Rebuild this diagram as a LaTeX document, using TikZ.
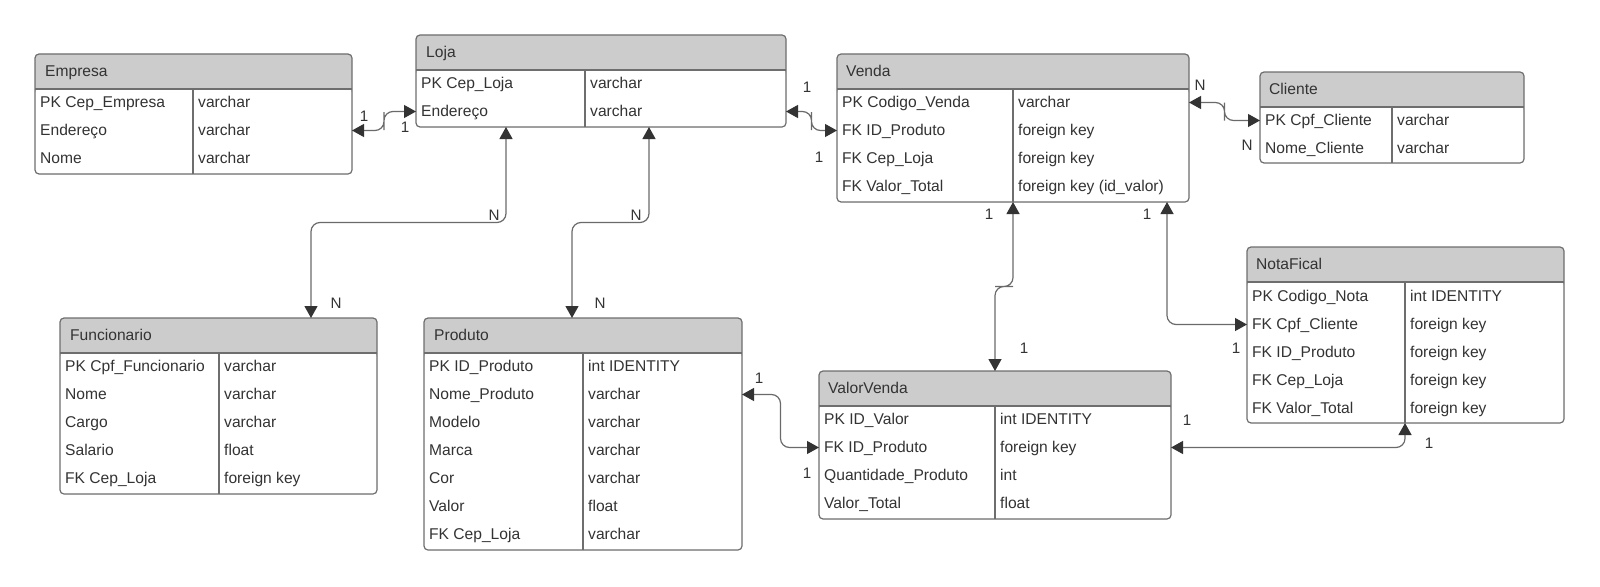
\documentclass[tikz,border=0pt]{standalone}
\usepackage{fontspec}
\setmainfont{Liberation Sans}
\usepackage{xcolor}
\usetikzlibrary{calc,arrows.meta}
\definecolor{headgray}{HTML}{CCCCCC}
\definecolor{framegray}{HTML}{6E6E6E}
\definecolor{linkgray}{HTML}{6A6A6A}
\definecolor{tipdark}{HTML}{333333}
\definecolor{txt}{HTML}{333333}

\begin{document}
\begin{tikzpicture}[x=1pt,y=-1pt,font=\fontsize{15.6}{18}\selectfont,
    tbl/.style={anchor=north west,draw=framegray,line width=1.2pt,rounded corners=4pt,fill=headgray,
        inner sep=0pt,outer sep=0pt,
        path picture={
            \fill[white] ([yshift=-35pt]path picture bounding box.north west) rectangle (path picture bounding box.south east);
            \draw[tblline] ([yshift=-35pt]path picture bounding box.north west) -- ([yshift=-35pt]path picture bounding box.north east);
        }},
    tblline/.style={draw=framegray,line width=1.2pt},
    fld/.style={anchor=west,inner sep=0pt,text=txt,text height=12pt,text depth=2pt},
    card/.style={inner sep=0pt,text=txt,font=\fontsize{15.2}{17}\selectfont},
    rel/.style={<->,>={Triangle[length=12pt,width=13pt,color=tipdark]},draw=linkgray,line width=1.2pt,rounded corners=9pt}]

    \useasboundingbox (0,0) rectangle (1600,586);

    % Empresa
    \node[tbl,minimum width=317pt,minimum height=120pt] (empresa) at (35,54) {};
    \draw[tblline] (193,89) -- (193,174);
    \node[fld] (empresa0) at (45,71.5) {Empresa};
    \node[fld] (empresa1) at (40,102.5) {PK Cep\_Empresa};
    \node[fld] (empresa1v) at (198,102.5) {varchar};
    \node[fld] (empresa2) at (40,130.5) {Endereço};
    \node[fld] (empresa2v) at (198,130.5) {varchar};
    \node[fld] (empresa3) at (40,158.5) {Nome};
    \node[fld] (empresa3v) at (198,158.5) {varchar};

    % Loja
    \node[tbl,minimum width=370pt,minimum height=92pt] (loja) at (416,35) {};
    \draw[tblline] (585,71) -- (585,127);
    \node[fld] (loja0) at (426,52.5) {Loja};
    \node[fld] (loja1) at (421,83.5) {PK Cep\_Loja};
    \node[fld] (loja1v) at (590,83.5) {varchar};
    \node[fld] (loja2) at (421,111.5) {Endereço};
    \node[fld] (loja2v) at (590,111.5) {varchar};

    % Venda
    \node[tbl,minimum width=352pt,minimum height=148pt] (venda) at (837,54) {};
    \draw[tblline] (1013,89) -- (1013,202);
    \node[fld] (venda0) at (846,71.5) {Venda};
    \node[fld] (venda1) at (842,102.5) {PK Codigo\_Venda};
    \node[fld] (venda1v) at (1018,102.5) {varchar};
    \node[fld] (venda2) at (842,130.5) {FK ID\_Produto};
    \node[fld] (venda2v) at (1018,130.5) {foreign key};
    \node[fld] (venda3) at (842,158.5) {FK Cep\_Loja};
    \node[fld] (venda3v) at (1018,158.5) {foreign key};
    \node[fld] (venda4) at (842,186.5) {FK Valor\_Total};
    \node[fld] (venda4v) at (1018,186.5) {foreign key (id\_valor)};

    % Cliente
    \node[tbl,minimum width=264pt,minimum height=91pt] (cliente) at (1260,72) {};
    \draw[tblline] (1392,107) -- (1392,163);
    \node[fld] (cliente0) at (1269,89.5) {Cliente};
    \node[fld] (cliente1) at (1265,120.5) {PK Cpf\_Cliente};
    \node[fld] (cliente1v) at (1397,120.5) {varchar};
    \node[fld] (cliente2) at (1265,148.5) {Nome\_Cliente};
    \node[fld] (cliente2v) at (1397,148.5) {varchar};

    % Funcionario
    \node[tbl,minimum width=317pt,minimum height=176pt] (funcionario) at (60,318) {};
    \draw[tblline] (219,353) -- (219,494);
    \node[fld] (funcionario0) at (70,335.5) {Funcionario};
    \node[fld] (funcionario1) at (65,366.5) {PK Cpf\_Funcionario};
    \node[fld] (funcionario1v) at (224,366.5) {varchar};
    \node[fld] (funcionario2) at (65,394.5) {Nome};
    \node[fld] (funcionario2v) at (224,394.5) {varchar};
    \node[fld] (funcionario3) at (65,422.5) {Cargo};
    \node[fld] (funcionario3v) at (224,422.5) {varchar};
    \node[fld] (funcionario4) at (65,450.5) {Salario};
    \node[fld] (funcionario4v) at (224,450.5) {float};
    \node[fld] (funcionario5) at (65,478.5) {FK Cep\_Loja};
    \node[fld] (funcionario5v) at (224,478.5) {foreign key};

    % Produto
    \node[tbl,minimum width=318pt,minimum height=232pt] (produto) at (424,318) {};
    \draw[tblline] (583,353) -- (583,550);
    \node[fld] (produto0) at (434,335.5) {Produto};
    \node[fld] (produto1) at (429,366.5) {PK ID\_Produto};
    \node[fld] (produto1v) at (588,366.5) {int IDENTITY};
    \node[fld] (produto2) at (429,394.5) {Nome\_Produto};
    \node[fld] (produto2v) at (588,394.5) {varchar};
    \node[fld] (produto3) at (429,422.5) {Modelo};
    \node[fld] (produto3v) at (588,422.5) {varchar};
    \node[fld] (produto4) at (429,450.5) {Marca};
    \node[fld] (produto4v) at (588,450.5) {varchar};
    \node[fld] (produto5) at (429,478.5) {Cor};
    \node[fld] (produto5v) at (588,478.5) {varchar};
    \node[fld] (produto6) at (429,506.5) {Valor};
    \node[fld] (produto6v) at (588,506.5) {float};
    \node[fld] (produto7) at (429,534.5) {FK Cep\_Loja};
    \node[fld] (produto7v) at (588,534.5) {varchar};

    % ValorVenda
    \node[tbl,minimum width=352pt,minimum height=148pt] (valorvenda) at (819,371) {};
    \draw[tblline] (995,406) -- (995,519);
    \node[fld] (valorvenda0) at (828,388.5) {ValorVenda};
    \node[fld] (valorvenda1) at (824,419.5) {PK ID\_Valor};
    \node[fld] (valorvenda1v) at (1000,419.5) {int IDENTITY};
    \node[fld] (valorvenda2) at (824,447.5) {FK ID\_Produto};
    \node[fld] (valorvenda2v) at (1000,447.5) {foreign key};
    \node[fld] (valorvenda3) at (824,475.5) {Quantidade\_Produto};
    \node[fld] (valorvenda3v) at (1000,475.5) {int};
    \node[fld] (valorvenda4) at (824,503.5) {Valor\_Total};
    \node[fld] (valorvenda4v) at (1000,503.5) {float};

    % NotaFical
    \node[tbl,minimum width=317pt,minimum height=176pt] (notafical) at (1247,247) {};
    \draw[tblline] (1405,283) -- (1405,423);
    \node[fld] (notafical0) at (1256,264.5) {NotaFical};
    \node[fld] (notafical1) at (1252,296.5) {PK Codigo\_Nota};
    \node[fld] (notafical1v) at (1410,296.5) {int IDENTITY};
    \node[fld] (notafical2) at (1252,324.5) {FK Cpf\_Cliente};
    \node[fld] (notafical2v) at (1410,324.5) {foreign key};
    \node[fld] (notafical3) at (1252,352.5) {FK ID\_Produto};
    \node[fld] (notafical3v) at (1410,352.5) {foreign key};
    \node[fld] (notafical4) at (1252,380.5) {FK Cep\_Loja};
    \node[fld] (notafical4v) at (1410,380.5) {foreign key};
    \node[fld] (notafical5) at (1252,408.5) {FK Valor\_Total};
    \node[fld] (notafical5v) at (1410,408.5) {foreign key};

    % relacoes
    \draw[rel] (empresa.east |- empresa2) -| ($(empresa.east |- empresa2)!.5!(loja.west |- loja2)$) |- (loja.west |- loja2);
    \draw[rel] (loja.east |- loja2) -| ($(loja.east |- loja2)!.5!(venda.west |- venda2)$) |- (venda.west |- venda2);
    \draw[rel] (venda.east |- venda1) -| ($(venda.east |- venda1)!.5!(cliente.west |- cliente1)$) |- (cliente.west |- cliente1);
    \draw[rel] ([xshift=90pt]loja.south west) |- ($([xshift=90pt]loja.south west)!.5!([xshift=251pt]funcionario.north west)$) -| ([xshift=251pt]funcionario.north west);
    \draw[rel] ([xshift=233pt]loja.south west) |- ($([xshift=233pt]loja.south west)!.5!([xshift=148pt]produto.north west)$) -| ([xshift=148pt]produto.north west);
    \draw[rel] ([xshift=176pt]venda.south west) |- ($([xshift=176pt]venda.south west)!.5!([xshift=176pt]valorvenda.north west)$) -| ([xshift=176pt]valorvenda.north west);
    \draw[rel] ([xshift=-22pt]venda.south east) |- (notafical.west |- notafical2);
    \draw[rel] (produto.east |- produto2) -| ($(produto.east |- produto2)!.5!(valorvenda.west |- valorvenda2)$) |- (valorvenda.west |- valorvenda2);
    \draw[rel] (valorvenda.east |- valorvenda2) -| ([xshift=158pt]notafical.south west);

    % cardinalidades
    \node[card] (c1a) at (364,116) {1};
    \node[card] (c1b) at (405,127) {1};
    \node[card] (c2a) at (807,87) {1};
    \node[card] (c2b) at (819,157) {1};
    \node[card] (c3a) at (1200,85) {N};
    \node[card] (c3b) at (1247,145) {N};
    \node[card] (c4a) at (494,215) {N};
    \node[card] (c4b) at (336,303) {N};
    \node[card] (c5a) at (636,215) {N};
    \node[card] (c5b) at (600,303) {N};
    \node[card] (c6a) at (989,214) {1};
    \node[card] (c6b) at (1024,348) {1};
    \node[card] (c7a) at (1147,214) {1};
    \node[card] (c7b) at (1236,348) {1};
    \node[card] (c8a) at (759,378) {1};
    \node[card] (c8b) at (807,473) {1};
    \node[card] (c9a) at (1187,420) {1};
    \node[card] (c9b) at (1429,443) {1};
\end{tikzpicture}
\end{document}
